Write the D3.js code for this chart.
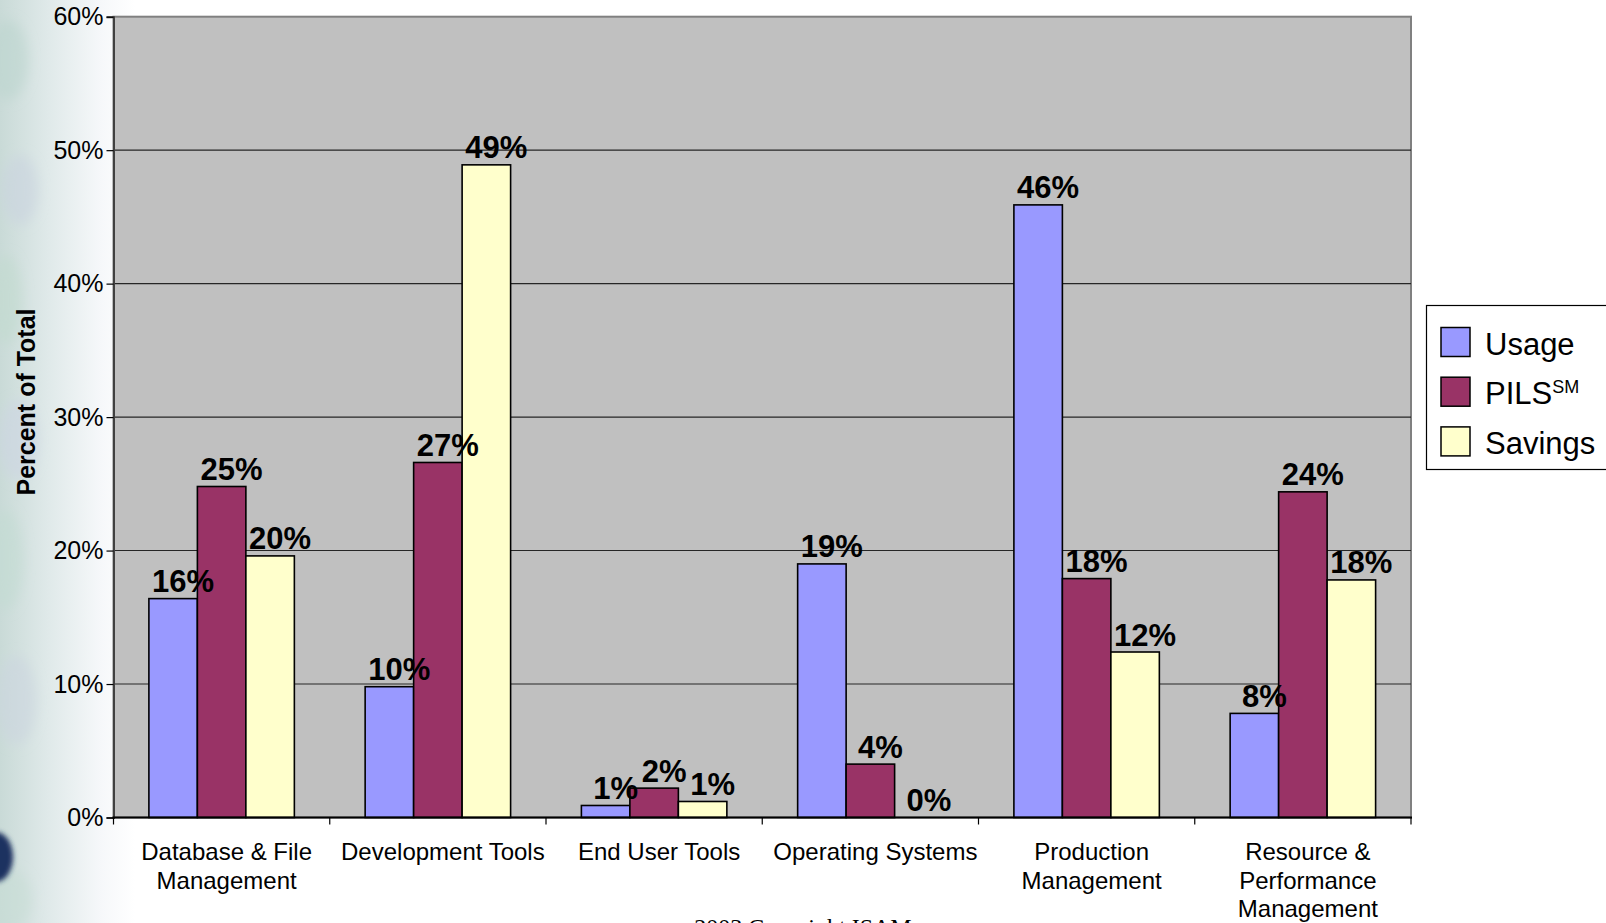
<!DOCTYPE html>
<html>
<head>
<meta charset="utf-8">
<script src="https://cdn.jsdelivr.net/npm/d3@7/dist/d3.min.js"></script>
<style>
  html, body { margin: 0; padding: 0; background: #fff; overflow: hidden; }
  svg { display: block; }
  text { font-family: Arial, "Liberation Sans", Helvetica, sans-serif; }
  text.footer { font-family: "Times New Roman", "Liberation Serif", "DejaVu Serif", serif; }
</style>
</head>
<body>
<svg id="chart" width="1606" height="923"></svg>
<script>
// Software category breakdown (percent of total)
const categories = [
  ["Database & File", "Management"],
  ["Development Tools"],
  ["End User Tools"],
  ["Operating Systems"],
  ["Production", "Management"],
  ["Resource &", "Performance", "Management"]
];
const seriesNames = ["Usage", "PILS", "Savings"];
const usage   = [16.4,  9.8, 0.9, 19.0, 45.9,  7.8];
const pils    = [24.8, 26.6, 2.2,  4.0, 17.9, 24.4];
const savings = [19.6, 48.9, 1.2,  0.0, 12.4, 17.8];
const seriesValues = [usage, pils, savings];
const seriesColors = ["#9999FF", "#993366", "#FFFFCC"];
const yTicks = [0, 10, 20, 30, 40, 50, 60];

const svg = d3.select("#chart");
const W = 1606, H = 923;
const plot = { left: 113.5, right: 1411, top: 16.7, bottom: 817.5 };

// ---- slide background: soft photo strip fading into white on the left ----
const defs = svg.append("defs");
const fade = defs.append("linearGradient").attr("id", "leftFade")
  .attr("x1", "0").attr("x2", "1").attr("y1", "0").attr("y2", "0");
fade.append("stop").attr("offset", "0").attr("stop-color", "#c9dad7");
fade.append("stop").attr("offset", "0.35").attr("stop-color", "#dfe9e9");
fade.append("stop").attr("offset", "0.75").attr("stop-color", "#f6f8fa");
fade.append("stop").attr("offset", "1").attr("stop-color", "#ffffff");
const blur = defs.append("filter").attr("id", "soft")
  .attr("x", "-50%").attr("y", "-50%").attr("width", "200%").attr("height", "200%");
blur.append("feGaussianBlur").attr("stdDeviation", 6);
const blurSmall = defs.append("filter").attr("id", "softSmall")
  .attr("x", "-50%").attr("y", "-50%").attr("width", "200%").attr("height", "200%");
blurSmall.append("feGaussianBlur").attr("stdDeviation", 2.5);

svg.append("rect").attr("width", W).attr("height", H).attr("fill", "#fff");
svg.append("rect").attr("x", 0).attr("y", 0).attr("width", 135).attr("height", H)
  .attr("fill", "url(#leftFade)");
const blobs = [
  [8, 60, 20, 40, "#bcd6cf"], [20, 190, 18, 35, "#c9d3df"], [6, 300, 16, 45, "#c2dacf"],
  [18, 440, 20, 40, "#cdd6e2"], [5, 560, 18, 50, "#c3dcd2"], [16, 700, 20, 45, "#cbd5df"],
  [10, 900, 22, 30, "#c8ddd5"]
];
svg.append("g").attr("filter", "url(#soft)")
  .selectAll("ellipse").data(blobs).join("ellipse")
  .attr("cx", d => d[0]).attr("cy", d => d[1]).attr("rx", d => d[2]).attr("ry", d => d[3])
  .attr("fill", d => d[4]).attr("opacity", 0.6);
svg.append("ellipse").attr("cx", -4).attr("cy", 857).attr("rx", 17).attr("ry", 25)
  .attr("fill", "#1f3160").attr("filter", "url(#softSmall)");

// ---- scales ----
const x0 = d3.scaleBand().domain(d3.range(categories.length))
  .range([plot.left, plot.right]).padding(0);
const x1 = d3.scaleBand().domain(d3.range(seriesNames.length))
  .range([0, x0.bandwidth()]).paddingInner(0).paddingOuter(0.73);
const y = d3.scaleLinear().domain([0, 60]).range([plot.bottom, plot.top]);

// ---- plot area ----
svg.append("rect")
  .attr("x", plot.left).attr("y", plot.top)
  .attr("width", plot.right - plot.left).attr("height", plot.bottom - plot.top)
  .attr("fill", "#C0C0C0").attr("stroke", "#808080").attr("stroke-width", 2);

// gridlines
svg.append("g").selectAll("line").data(yTicks.filter(t => t > 0 && t < 60)).join("line")
  .attr("x1", plot.left).attr("x2", plot.right)
  .attr("y1", d => y(d)).attr("y2", d => y(d))
  .attr("stroke", "#262626").attr("stroke-width", 1.1);

// ---- bars ----
const groups = svg.append("g").selectAll("g").data(categories).join("g")
  .attr("transform", (d, i) => `translate(${x0(i)},0)`);

groups.selectAll("rect")
  .data((d, ci) => seriesValues.map((vals, si) => ({ si, v: vals[ci] })))
  .join("rect")
  .attr("x", d => x1(d.si)).attr("width", x1.bandwidth())
  .attr("y", d => y(d.v)).attr("height", d => y(0) - y(d.v))
  .attr("fill", d => seriesColors[d.si])
  .attr("stroke", "#000").attr("stroke-width", 1.6);

// value labels
const fmt = d3.format(".0f");
groups.selectAll("text.val")
  .data((d, ci) => seriesValues.map((vals, si) => ({ si, v: vals[ci] })))
  .join("text").attr("class", "val")
  .attr("x", d => x1(d.si) + x1.bandwidth() / 2 + 10)
  .attr("y", d => y(d.v) - 6.5)
  .attr("text-anchor", "middle")
  .attr("font-size", 31).attr("font-weight", "bold").attr("fill", "#000")
  .text(d => fmt(d.v) + "%");

// ---- axes ----
const yAxis = d3.axisLeft(y).tickValues(yTicks).tickSize(7).tickPadding(3)
  .tickFormat(d => d + "%");
const gy = svg.append("g").attr("transform", `translate(${plot.left},0)`).call(yAxis);
gy.select(".domain").attr("stroke", "#404040").attr("stroke-width", 2);
gy.selectAll(".tick line").attr("stroke", "#000").attr("stroke-width", 1.2);
gy.selectAll(".tick text").attr("font-size", 25).attr("fill", "#000");

// category axis: baseline and boundary ticks
svg.append("line")
  .attr("x1", plot.left - 1).attr("x2", plot.right + 1)
  .attr("y1", plot.bottom).attr("y2", plot.bottom)
  .attr("stroke", "#000").attr("stroke-width", 2);
const bounds = d3.range(categories.length + 1).map(i =>
  i < categories.length ? x0(i) : x0(categories.length - 1) + x0.bandwidth());
svg.append("g").selectAll("line").data(bounds).join("line")
  .attr("x1", d => d).attr("x2", d => d)
  .attr("y1", plot.bottom).attr("y2", plot.bottom + 7)
  .attr("stroke", "#000").attr("stroke-width", 1.2);

const catLabels = svg.append("g").selectAll("text").data(categories).join("text")
  .attr("x", (d, i) => x0(i) + x0.bandwidth() / 2 + 5)
  .attr("y", 860)
  .attr("text-anchor", "middle").attr("font-size", 24).attr("fill", "#000");
catLabels.selectAll("tspan").data(d => d).join("tspan")
  .attr("x", function () { return d3.select(this.parentNode).attr("x"); })
  .attr("dy", (d, i) => i === 0 ? 0 : 28.5)
  .text(d => d);

// y axis title
svg.append("text")
  .attr("transform", "translate(35,402) rotate(-90)")
  .attr("text-anchor", "middle").attr("font-size", 25).attr("font-weight", "bold")
  .attr("fill", "#000")
  .text("Percent of Total");

// ---- legend ----
const legend = svg.append("g");
legend.append("rect")
  .attr("x", 1426.5).attr("y", 305.5).attr("width", 220).attr("height", 164)
  .attr("fill", "#fff").attr("stroke", "#000").attr("stroke-width", 1.2);
const items = legend.selectAll("g.item").data(seriesNames).join("g").attr("class", "item")
  .attr("transform", (d, i) => `translate(1441,${327.5 + i * 49.7})`);
items.append("rect").attr("width", 29).attr("height", 29)
  .attr("fill", (d, i) => seriesColors[i]).attr("stroke", "#000").attr("stroke-width", 1.5);
const lt = items.append("text").attr("x", 44).attr("y", 27)
  .attr("font-size", 31).attr("fill", "#000");
lt.append("tspan").text(d => d);
lt.filter(d => d === "PILS").append("tspan")
  .attr("font-size", 18).attr("dy", -11).text("SM");

// ---- footer ----
svg.append("text").attr("class", "footer")
  .attr("x", 803).attr("y", 935).attr("text-anchor", "middle")
  .attr("font-size", 24).attr("fill", "#000")
  .text("2003 Copyright ISAM");
</script>
</body>
</html>
